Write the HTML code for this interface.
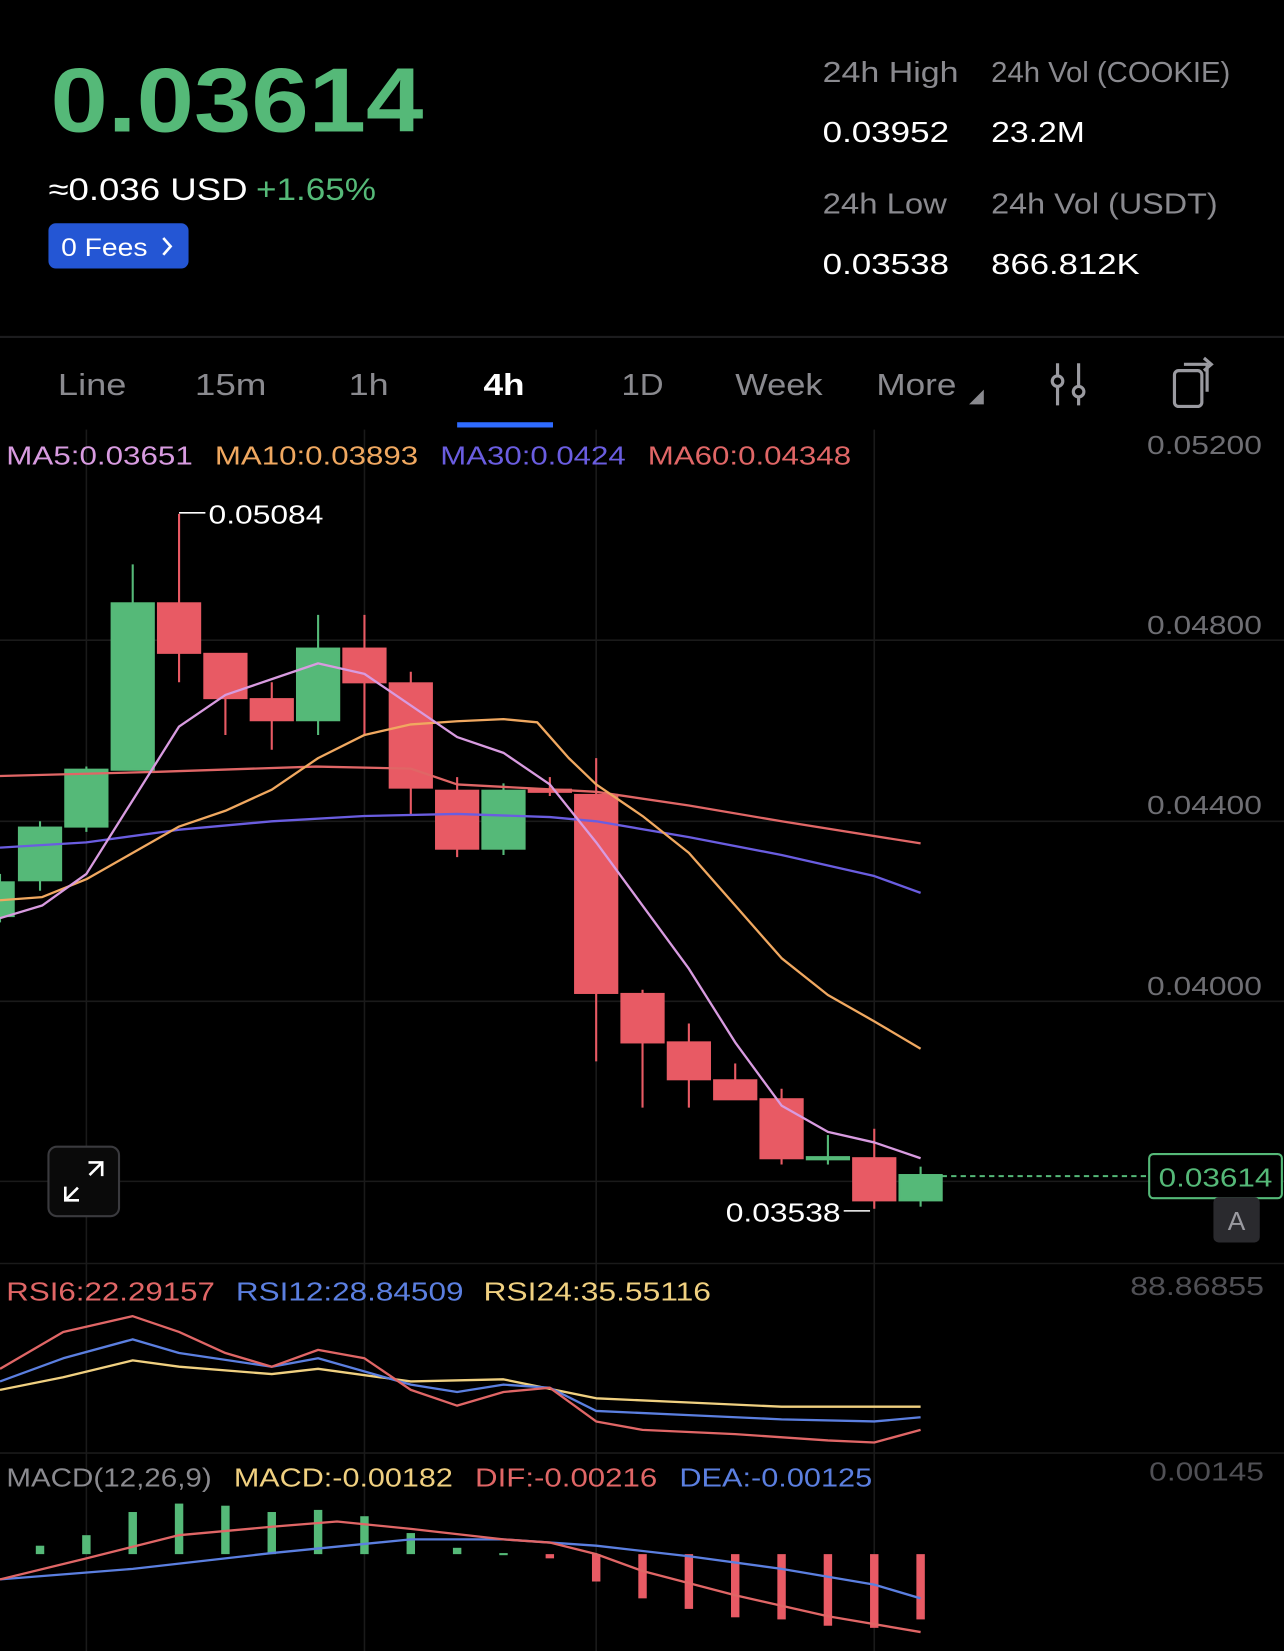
<!DOCTYPE html>
<html><head><meta charset="utf-8"><style>
html,body{margin:0;padding:0;background:#000;}
svg{display:block}
text{font-family:"Liberation Sans",sans-serif;}
</style></head><body>
<svg width="1284" height="1651" viewBox="0 0 1219 1568" preserveAspectRatio="none" xmlns="http://www.w3.org/2000/svg">
<rect width="1219" height="1568" fill="#000"/>
<!-- header -->
<text x="48" y="125" font-size="86" font-weight="bold" fill="#55b978" textLength="354" lengthAdjust="spacingAndGlyphs">0.03614</text>
<text x="46" y="190" font-size="30" fill="#fff" textLength="189" lengthAdjust="spacingAndGlyphs">≈0.036 USD</text>
<text x="243" y="190" font-size="30" fill="#55b978" textLength="114" lengthAdjust="spacingAndGlyphs">+1.65%</text>
<rect x="46" y="212" width="133" height="43" rx="7" fill="#2456d4"/>
<text x="58" y="243" font-size="24" fill="#fff" textLength="82" lengthAdjust="spacingAndGlyphs">0 Fees</text>
<path d="M155 226 L162 234 L155 242" stroke="#fff" stroke-width="2.5" fill="none"/>
<g font-size="27">
<text x="781" y="78" fill="#8a8a8f" textLength="129" lengthAdjust="spacingAndGlyphs">24h High</text>
<text x="941" y="78" fill="#8a8a8f" textLength="227" lengthAdjust="spacingAndGlyphs">24h Vol (COOKIE)</text>
<text x="781" y="135" fill="#fff" textLength="120" lengthAdjust="spacingAndGlyphs">0.03952</text>
<text x="941" y="135" fill="#fff" textLength="89" lengthAdjust="spacingAndGlyphs">23.2M</text>
<text x="781" y="203" fill="#8a8a8f" textLength="118" lengthAdjust="spacingAndGlyphs">24h Low</text>
<text x="941" y="203" fill="#8a8a8f" textLength="215" lengthAdjust="spacingAndGlyphs">24h Vol  (USDT)</text>
<text x="781" y="260" fill="#fff" textLength="120" lengthAdjust="spacingAndGlyphs">0.03538</text>
<text x="941" y="260" fill="#fff" textLength="141" lengthAdjust="spacingAndGlyphs">866.812K</text>
</g>
<line x1="0" y1="320" x2="1219" y2="320" stroke="#1c1c1e" stroke-width="2"/>
<!-- tabs -->
<g font-size="29" fill="#8a8a8f">
<text x="55" y="375" textLength="65" lengthAdjust="spacingAndGlyphs">Line</text>
<text x="185" y="375" textLength="68" lengthAdjust="spacingAndGlyphs">15m</text>
<text x="331" y="375" textLength="38" lengthAdjust="spacingAndGlyphs">1h</text>
<text x="459" y="375" fill="#fff" font-weight="bold" textLength="39" lengthAdjust="spacingAndGlyphs">4h</text>
<text x="590" y="375" textLength="40" lengthAdjust="spacingAndGlyphs">1D</text>
<text x="698" y="375" textLength="83" lengthAdjust="spacingAndGlyphs">Week</text>
<text x="832" y="375" textLength="76" lengthAdjust="spacingAndGlyphs">More</text>
</g>
<path d="M920 384 L934 384 L934 370 Z" fill="#8a8a8f"/>
<rect x="434" y="401" width="91" height="5" fill="#2f6bff"/>
<g stroke="#9a9aa0" stroke-width="3" fill="none">
<line x1="1004" y1="345" x2="1004" y2="385"/><circle cx="1004" cy="362" r="5" fill="#000"/>
<line x1="1024" y1="345" x2="1024" y2="385"/><circle cx="1024" cy="372" r="5" fill="#000"/>
<rect x="1115" y="352" width="26" height="34" rx="4"/>
<path d="M1124 346 L1146 346 L1146 372"/><path d="M1143 340 L1150 346 L1143 352"/>
</g>
<!-- grid -->
<g stroke="#1a1a1a" stroke-width="1.5">
<line x1="0" y1="608" x2="1219" y2="608"/><line x1="0" y1="780" x2="1219" y2="780"/>
<line x1="0" y1="951" x2="1219" y2="951"/><line x1="0" y1="1122" x2="1219" y2="1122"/>
<line x1="82" y1="408" x2="82" y2="1568"/><line x1="346" y1="408" x2="346" y2="1568"/>
<line x1="566" y1="408" x2="566" y2="1568"/><line x1="830" y1="408" x2="830" y2="1568"/>
<line x1="0" y1="1200" x2="1219" y2="1200"/><line x1="0" y1="1380" x2="1219" y2="1380"/>
</g>
<g font-size="25" fill="#6e6e73">
<text x="1089" y="431" textLength="109" lengthAdjust="spacingAndGlyphs">0.05200</text>
<text x="1089" y="602" textLength="109" lengthAdjust="spacingAndGlyphs">0.04800</text>
<text x="1089" y="773" textLength="109" lengthAdjust="spacingAndGlyphs">0.04400</text>
<text x="1089" y="945" textLength="109" lengthAdjust="spacingAndGlyphs">0.04000</text>
<text x="1073" y="1230" fill="#505055" textLength="127" lengthAdjust="spacingAndGlyphs">88.86855</text>
<text x="1091" y="1406" fill="#505055" textLength="109" lengthAdjust="spacingAndGlyphs">0.00145</text>
</g>
<g font-size="25">
<text x="6" y="441" fill="#d89be0" textLength="177" lengthAdjust="spacingAndGlyphs">MA5:0.03651</text>
<text x="204" y="441" fill="#f0a860" textLength="193" lengthAdjust="spacingAndGlyphs">MA10:0.03893</text>
<text x="418" y="441" fill="#6a5de0" textLength="176" lengthAdjust="spacingAndGlyphs">MA30:0.0424</text>
<text x="615" y="441" fill="#e06666" textLength="193" lengthAdjust="spacingAndGlyphs">MA60:0.04348</text>
</g>
<!-- candles -->
<g stroke-width="2">
<g fill="#55b978" stroke="#55b978">
<line x1="0" y1="830" x2="0" y2="876"/><rect x="-20" y="838" width="33" height="32"/>
<line x1="38" y1="780" x2="38" y2="846"/><rect x="18" y="786" width="40" height="50"/>
<line x1="82" y1="728" x2="82" y2="790"/><rect x="62" y="731" width="40" height="54"/>
<line x1="126" y1="536" x2="126" y2="731"/><rect x="106" y="573" width="40" height="158"/>
<line x1="302" y1="584" x2="302" y2="698"/><rect x="282" y="616" width="40" height="68"/>
<line x1="478" y1="744" x2="478" y2="812"/><rect x="458" y="751" width="40" height="55"/>
<line x1="786" y1="1078" x2="786" y2="1106"/><rect x="766" y="1099" width="40" height="2"/>
<line x1="874" y1="1108" x2="874" y2="1146"/><rect x="854" y="1116" width="40" height="24"/>
</g>
<g fill="#e85a64" stroke="#e85a64">
<line x1="170" y1="488" x2="170" y2="648"/><rect x="150" y="573" width="40" height="47"/>
<line x1="214" y1="621" x2="214" y2="698"/><rect x="194" y="621" width="40" height="42"/>
<line x1="258" y1="648" x2="258" y2="712"/><rect x="238" y="664" width="40" height="20"/>
<line x1="346" y1="584" x2="346" y2="698"/><rect x="326" y="616" width="40" height="32"/>
<line x1="390" y1="638" x2="390" y2="774"/><rect x="370" y="649" width="40" height="99"/>
<line x1="434" y1="738" x2="434" y2="814"/><rect x="414" y="751" width="40" height="55"/>
<line x1="522" y1="738" x2="522" y2="756"/><rect x="502" y="750" width="40" height="2"/>
<line x1="566" y1="720" x2="566" y2="1008"/><rect x="546" y="755" width="40" height="188"/>
<line x1="610" y1="940" x2="610" y2="1052"/><rect x="590" y="944" width="40" height="46"/>
<line x1="654" y1="972" x2="654" y2="1052"/><rect x="634" y="990" width="40" height="35"/>
<line x1="698" y1="1010" x2="698" y2="1044"/><rect x="678" y="1026" width="40" height="18"/>
<line x1="742" y1="1034" x2="742" y2="1106"/><rect x="722" y="1044" width="40" height="56"/>
<line x1="830" y1="1072" x2="830" y2="1148"/><rect x="810" y="1100" width="40" height="40"/>
</g>
</g>
<!-- MAs -->
<g fill="none" stroke-width="2.2" stroke-linejoin="round">
<polyline stroke="#e06666" points="0,737 150,733 300,728 390,730 434,745 566,752 654,765 742,780 874,801"/>
<polyline stroke="#6a5de0" points="0,805 82,800 170,788 258,780 346,775 434,773 522,776 566,780 654,795 742,812 830,832 874,848"/>
<polyline stroke="#f0a860" points="0,855 40,852 82,835 126,810 170,785 214,770 258,750 302,720 346,698 390,688 434,685 478,683 510,686 540,720 566,745 610,775 654,810 698,860 742,910 786,945 830,970 874,996"/>
<polyline stroke="#d89be0" points="0,872 40,860 82,830 126,760 170,690 214,660 258,645 302,630 346,640 390,670 434,700 478,715 522,745 566,800 610,860 654,920 698,990 742,1050 786,1075 830,1085 874,1100"/>
</g>
<line x1="170" y1="487" x2="195" y2="487" stroke="#fff" stroke-width="1.5"/>
<text x="198" y="497" font-size="25" fill="#fff" textLength="109" lengthAdjust="spacingAndGlyphs">0.05084</text>
<line x1="801" y1="1150" x2="826" y2="1150" stroke="#fff" stroke-width="1.5"/>
<text x="689" y="1160" font-size="25" fill="#fff" textLength="109" lengthAdjust="spacingAndGlyphs">0.03538</text>
<line x1="894" y1="1117" x2="1091" y2="1117" stroke="#55b978" stroke-width="2" stroke-dasharray="5,4"/>
<rect x="1091" y="1096" width="126" height="42" rx="4" fill="#000" stroke="#55b978" stroke-width="2"/>
<text x="1100" y="1127" font-size="25" fill="#55b978" textLength="108" lengthAdjust="spacingAndGlyphs">0.03614</text>
<rect x="1152" y="1137" width="44" height="43" rx="5" fill="#2a2a2e"/>
<text x="1174" y="1168" font-size="25" fill="#9a9aa0" text-anchor="middle">A</text>
<rect x="46" y="1089" width="67" height="66" rx="8" fill="#0a0a0a" stroke="#3a3a3e" stroke-width="2"/>
<g stroke="#fff" stroke-width="2.5" fill="none">
<path d="M84 1104 L97 1104 L97 1117 M97 1104 L85 1116"/><path d="M62 1127 L62 1140 L75 1140 M62 1140 L74 1128"/>
</g>
<!-- RSI -->
<g font-size="25">
<text x="6" y="1235" fill="#e06666" textLength="198" lengthAdjust="spacingAndGlyphs">RSI6:22.29157</text>
<text x="224" y="1235" fill="#5b7fe0" textLength="216" lengthAdjust="spacingAndGlyphs">RSI12:28.84509</text>
<text x="459" y="1235" fill="#f0d080" textLength="216" lengthAdjust="spacingAndGlyphs">RSI24:35.55116</text>
</g>
<g fill="none" stroke-width="2.2" stroke-linejoin="round">
<polyline stroke="#f0d080" points="0,1320 60,1308 126,1292 170,1298 258,1305 302,1300 390,1312 478,1310 566,1328 654,1332 742,1336 874,1336"/>
<polyline stroke="#5b7fe0" points="0,1312 60,1290 126,1272 170,1285 258,1298 302,1290 390,1315 434,1322 478,1315 522,1318 566,1340 654,1344 742,1348 830,1350 874,1346"/>
<polyline stroke="#e06666" points="0,1300 60,1265 126,1250 170,1265 214,1285 258,1298 302,1282 346,1290 390,1320 434,1335 478,1322 522,1318 566,1350 610,1358 698,1362 786,1368 830,1370 874,1358"/>
</g>
<!-- MACD -->
<g font-size="25">
<text x="6" y="1412" fill="#8a8a8f" textLength="195" lengthAdjust="spacingAndGlyphs">MACD(12,26,9)</text>
<text x="222" y="1412" fill="#f0d080" textLength="208" lengthAdjust="spacingAndGlyphs">MACD:-0.00182</text>
<text x="451" y="1412" fill="#e06666" textLength="173" lengthAdjust="spacingAndGlyphs">DIF:-0.00216</text>
<text x="645" y="1412" fill="#5b7fe0" textLength="183" lengthAdjust="spacingAndGlyphs">DEA:-0.00125</text>
</g>
<g fill="#55b978">
<rect x="34" y="1468" width="8" height="8"/><rect x="78" y="1458" width="8" height="18"/>
<rect x="122" y="1436" width="8" height="40"/><rect x="166" y="1428" width="8" height="48"/>
<rect x="210" y="1430" width="8" height="46"/><rect x="254" y="1436" width="8" height="40"/>
<rect x="298" y="1434" width="8" height="42"/><rect x="342" y="1440" width="8" height="36"/>
<rect x="386" y="1456" width="8" height="20"/><rect x="430" y="1470" width="8" height="6"/>
<rect x="474" y="1475" width="8" height="2"/>
</g>
<g fill="#e85a64">
<rect x="518" y="1476" width="8" height="4"/><rect x="562" y="1476" width="8" height="26"/>
<rect x="606" y="1476" width="8" height="42"/><rect x="650" y="1476" width="8" height="52"/>
<rect x="694" y="1476" width="8" height="60"/><rect x="738" y="1476" width="8" height="62"/>
<rect x="782" y="1476" width="8" height="68"/><rect x="826" y="1476" width="8" height="70"/>
<rect x="870" y="1476" width="8" height="62"/>
</g>
<g fill="none" stroke-width="2.2" stroke-linejoin="round">
<polyline stroke="#5b7fe0" points="0,1500 126,1490 258,1475 390,1462 478,1462 566,1468 654,1478 742,1490 830,1505 874,1518"/>
<polyline stroke="#e06666" points="0,1500 82,1480 170,1458 258,1450 320,1445 390,1452 478,1462 522,1465 566,1476 610,1492 698,1515 786,1535 874,1550"/>
</g>
</svg>
</body></html>
